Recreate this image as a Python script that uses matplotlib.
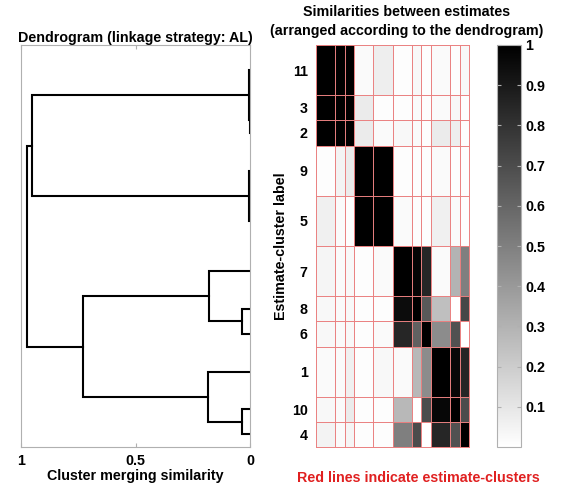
import matplotlib
matplotlib.use("Agg")
import matplotlib.pyplot as plt
import numpy as np

plt.rcParams['font.family'] = ['Liberation Sans', 'DejaVu Sans']
plt.rcParams['font.weight'] = 'bold'

# cluster labels in dendrogram order, and number of estimates in each
labels = ['11', '3', '2', '9', '5', '7', '8', '6', '1', '10', '4']
sizes = [2, 1, 1, 2, 2, 2, 1, 1, 2, 1, 1]

# similarity between estimate-clusters (rows/cols in the order above)
sim = np.array([
    [1.00, 1.00, 1.00, 0.02, 0.07, 0.01, 0.03, 0.01, 0.02, 0.01, 0.03],
    [1.00, 1.00, 1.00, 0.08, 0.01, 0.01, 0.02, 0.01, 0.02, 0.03, 0.01],
    [1.00, 1.00, 1.00, 0.08, 0.02, 0.03, 0.02, 0.01, 0.08, 0.07, 0.01],
    [0.01, 0.05, 0.08, 1.00, 1.00, 0.01, 0.01, 0.01, 0.02, 0.01, 0.01],
    [0.06, 0.02, 0.01, 1.00, 1.00, 0.02, 0.01, 0.01, 0.06, 0.02, 0.01],
    [0.04, 0.02, 0.03, 0.01, 0.02, 1.00, 0.98, 0.85, 0.02, 0.30, 0.50],
    [0.03, 0.02, 0.03, 0.01, 0.01, 0.95, 1.00, 0.65, 0.25, 0.00, 0.72],
    [0.03, 0.02, 0.03, 0.01, 0.02, 0.85, 0.62, 1.00, 0.45, 0.68, 0.00],
    [0.02, 0.02, 0.06, 0.01, 0.03, 0.02, 0.28, 0.45, 1.00, 0.97, 0.85],
    [0.03, 0.02, 0.08, 0.01, 0.01, 0.28, 0.00, 0.70, 0.97, 1.00, 0.70],
    [0.05, 0.02, 0.04, 0.01, 0.01, 0.50, 0.70, 0.00, 0.85, 0.68, 1.00],
])

# dendrogram merges: (node a, node b, merge value); leaves are 0..10, new nodes 11..
merges = [
    (1, 2, 0.002),
    (0, 11, 0.004),
    (3, 4, 0.004),
    (6, 7, 0.035),
    (5, 14, 0.18),
    (9, 10, 0.035),
    (8, 16, 0.185),
    (12, 13, 0.95),
    (15, 17, 0.73),
    (18, 19, 0.975),
]

edges = np.concatenate([[0], np.cumsum(sizes)])
centers = (edges[:-1] + edges[1:]) / 2
total = edges[-1]

fig = plt.figure(figsize=(5.61, 4.91), dpi=100)
W, H = 561, 491

def box(l, r, t, b):
    return [l / W, 1 - b / H, (r - l) / W, (b - t) / H]

grey = '#b0b0b0'
fs = 10.3

# --- dendrogram ---
ax1 = fig.add_axes(box(21, 250, 45, 447))
ypos = list(centers)
xpos = [0.0] * len(labels)
for a, b, h in merges:
    ax1.plot([xpos[a], h, h, xpos[b]], [ypos[a], ypos[a], ypos[b], ypos[b]],
             color='black', lw=1.5, solid_joinstyle='miter')
    ypos.append((ypos[a] + ypos[b]) / 2)
    xpos.append(h)
ax1.set_xlim(1, 0)
ax1.set_ylim(total, 0)
ax1.set_xticks([1, 0.5, 0])
ax1.set_xticklabels(['1', '0.5', '0'])
ax1.set_yticks([])
ax1.tick_params(axis='x', direction='in', length=3, color=grey, top=True,
                labelsize=fs, pad=5)
for s in ax1.spines.values():
    s.set_color(grey)
ax1.set_xlabel('Cluster merging similarity', fontsize=fs, fontweight='bold', labelpad=1)
ax1.set_title('Dendrogram (linkage strategy: AL)', fontsize=fs, fontweight='bold', pad=2)

# --- similarity matrix ---
ax2 = fig.add_axes(box(316, 469.3, 45, 447))
mesh = ax2.pcolormesh(edges, edges, sim, cmap='gray_r', vmin=0, vmax=1)
red = '#ea8080'
for e in edges[1:-1]:
    ax2.axhline(e, color=red, lw=0.7)
    ax2.axvline(e, color=red, lw=0.7)
ax2.set_xlim(0, total)
ax2.set_ylim(total, 0)
ax2.set_xticks([])
ax2.set_yticks(centers)
ax2.set_yticklabels(labels)
ax2.tick_params(axis='y', length=0, labelsize=fs, pad=6)
for s in ax2.spines.values():
    s.set_color(red)
    s.set_linewidth(0.7)
ax2.set_ylabel('Estimate-cluster label', fontsize=fs, fontweight='bold', labelpad=3)

fig.text(407 / W, 1 - 12 / H, 'Similarities between estimates',
         ha='center', va='center', fontsize=fs, fontweight='bold')
fig.text(407 / W, 1 - 31 / H, '(arranged according to the dendrogram)',
         ha='center', va='center', fontsize=fs, fontweight='bold')
fig.text(418 / W, 1 - 478 / H, 'Red lines indicate estimate-clusters',
         ha='center', va='center', fontsize=fs, fontweight='bold', color='#e02020')

# --- colorbar ---
cax = fig.add_axes(box(497, 521, 45, 447))
cb = fig.colorbar(mesh, cax=cax, ticks=[0.1, 0.2, 0.3, 0.4, 0.5, 0.6, 0.7, 0.8, 0.9, 1])
cb.ax.set_yticklabels(['0.1', '0.2', '0.3', '0.4', '0.5', '0.6', '0.7', '0.8', '0.9', '1'])
cb.outline.set_edgecolor(grey)
cb.ax.tick_params(direction='in', length=3, color=grey, labelsize=fs, left=True, pad=3)

fig.savefig('out.png', dpi=100)
